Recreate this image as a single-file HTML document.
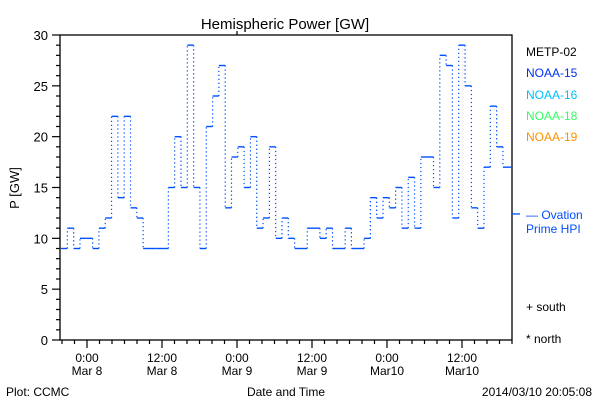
<!DOCTYPE html>
<html><head><meta charset="utf-8"><style>
html,body{margin:0;padding:0;background:#fff;}
svg{display:block;font-family:"Liberation Sans",sans-serif;}
</style></head><body>
<svg id="chart" width="600" height="400" viewBox="0 0 600 400" xmlns="http://www.w3.org/2000/svg">
<rect width="600" height="400" fill="#fff"/>
<text x="285" y="29" font-size="15" text-anchor="middle">Hemispheric Power [GW]</text>
<g id="axes"></g>
<g id="series"></g>
<text x="19" y="188" font-size="13" text-anchor="middle" transform="rotate(-90 19 188)">P [GW]</text>
<text x="286" y="396" font-size="12" text-anchor="middle">Date and Time</text>
<text x="6" y="396" font-size="12">Plot: CCMC</text>
<text x="592" y="396" font-size="12" text-anchor="end">2014/03/10 20:05:08</text>
<g font-size="12">
<text x="526" y="56" fill="#000">METP-02</text>
<text x="526" y="77" fill="#0030f0">NOAA-15</text>
<text x="526" y="99" fill="#00c0ff">NOAA-16</text>
<text x="526" y="120" fill="#30ff60">NOAA-18</text>
<text x="526" y="141" fill="#ff9000">NOAA-19</text>
<text x="526" y="219" fill="#0050ff">— Ovation</text>
<text x="526" y="233" fill="#0050ff">Prime HPI</text>
<text x="526" y="311" fill="#000">+ south</text>
<text x="526" y="343" fill="#000">* north</text>
</g>
</svg>
<script>
const values = [9,11,9,10,10,9,11,12,22,14,22,13,12,9,9,9,9,15,20,15,29,15,9,21,24,27,13,18,19,15,20,11,12,19,10,12,10,9,9,11,11,10,11,9,9,11,9,9,10,14,12,14,13,15,11,16,11,18,18,15,28,27,12,29,25,13,11,17,23,19,17,17];
const startHour = -4.15;
const stepHours = 1.01;
const ovationValue = 12.4;
const yTicks = [0,5,10,15,20,25,30];
const xTickHours = [0,12,24,36,48,60];
const xTickTimes = ["0:00","12:00","0:00","12:00","0:00","12:00"];
const xTickDates = ["Mar 8","Mar 8","Mar 9","Mar 9","Mar10","Mar10"];

const L=60,R=512,T=35,B=340;
const hMin=-4.32,hMax=68.0;
const X=h=>L+(h-hMin)/(hMax-hMin)*(R-L);
const Y=v=>B-(v/30)*(B-T);
const NS="http://www.w3.org/2000/svg";
const axes=document.getElementById('axes');
const ser=document.getElementById('series');
function mk(tag,attrs,parent){const e=document.createElementNS(NS,tag);for(const k in attrs)e.setAttribute(k,attrs[k]);parent.appendChild(e);return e;}

let e=mk('rect',{x:L,y:T,width:R-L,height:B-T,fill:'none',stroke:'#000','stroke-width':1.3},axes);


for(let v=0;v<=30;v++){
  const major=v%5===0;
  e=mk('line',{x1:L-(major?8:4),x2:L,y1:Y(v),y2:Y(v),stroke:'#000','stroke-width':1.2},axes);
  
  
}
yTicks.forEach(v=>{
  e=mk('text',{x:L-12,y:Y(v)+5,'font-size':13,'text-anchor':'end'},axes);
  e.textContent=v;
  
  
});
for(let h=-4;h<=68;h+=2){
  const major=h%12===0;
  e=mk('line',{x1:X(h),x2:X(h),y1:B,y2:B+(major?8:4),stroke:'#000','stroke-width':1.2},axes);
  
  
}
xTickHours.forEach((h,i)=>{
  e=mk('text',{x:X(h),y:B+22,'font-size':12,'text-anchor':'middle'},axes);
  e.textContent=xTickTimes[i];
  
  
  e=mk('text',{x:X(h),y:B+35,'font-size':12,'text-anchor':'middle'},axes);
  e.textContent=xTickDates[i];
  
  
});
e=mk('line',{x1:X(24),x2:X(24),y1:T,y2:T-4,stroke:'#000','stroke-width':1.2},axes);



values.forEach((v,i)=>{
  const h0=startHour+i*stepHours, h1=Math.min(h0+stepHours,hMax);
  const x0=X(h0), x1=X(h1);
  e=mk('line',{x1:x0,x2:x1,y1:Y(v),y2:Y(v),stroke:'#0050ff','stroke-width':1.4},ser);
  
  
  if(i<values.length-1){
    const n=values[i+1];
    e=mk('line',{x1:x1,x2:x1,y1:Y(v),y2:Y(n),stroke:'#0050ff','stroke-width':1.2,'stroke-dasharray':'1.3 2.7'},ser);
    
    
  }
});
e=mk('line',{x1:R,x2:R+8,y1:Y(ovationValue),y2:Y(ovationValue),stroke:'#0050ff','stroke-width':1.3},ser);


</script>
</body></html>
